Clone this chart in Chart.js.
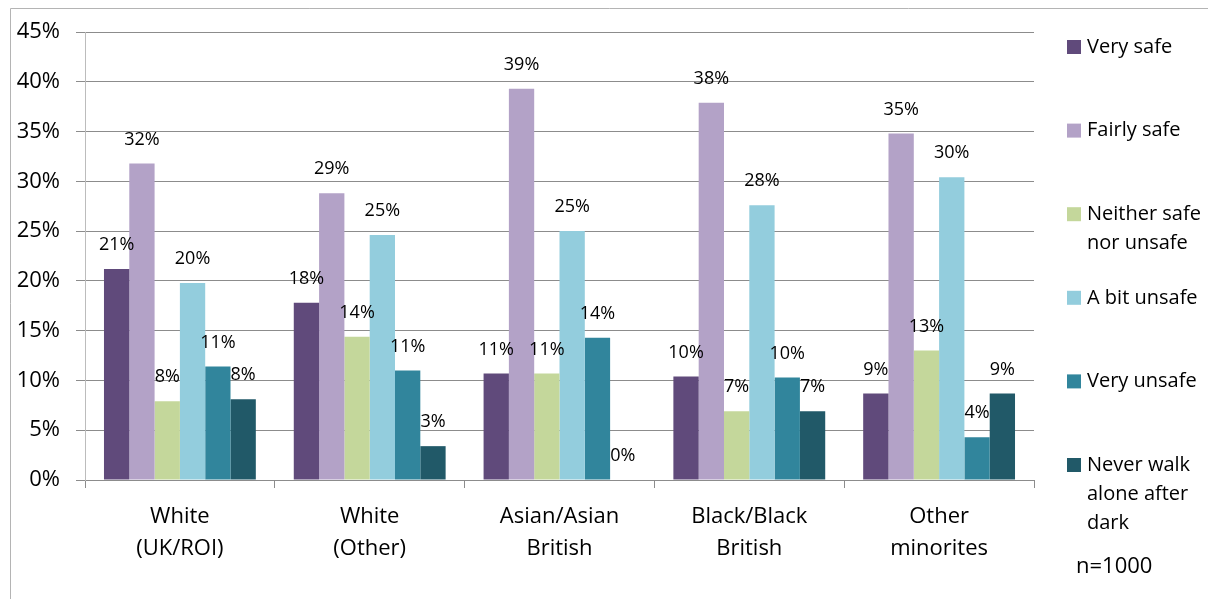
<!DOCTYPE html>
<html>
<head>
<meta charset="utf-8">
<title>Feeling of safety walking alone after dark, by ethnicity</title>
<script src="https://cdn.jsdelivr.net/npm/chart.js@4.4.1/dist/chart.umd.min.js"></script>
<style>
  html, body { margin: 0; padding: 0; background: #fff; }
  #wrap { width: 1208px; height: 599px; position: relative; }
</style>
</head>
<body>
<div id="wrap"><canvas id="myChart" width="1208" height="599"></canvas></div>
<script>
// categories along the x axis (each split over two lines)
var groups = [
  ["White", "(UK/ROI)"],
  ["White", "(Other)"],
  ["Asian/Asian", "British"],
  ["Black/Black", "British"],
  ["Other", "minorites"]
];

// percentage answering each option, per group
var verySafe    = [21.2, 17.8, 10.7, 10.4,  8.7];
var fairlySafe  = [31.8, 28.8, 39.3, 37.9, 34.8];
var neither     = [ 7.9, 14.4, 10.7,  6.9, 13.0];
var bitUnsafe   = [19.8, 24.6, 25.0, 27.6, 30.4];
var veryUnsafe  = [11.4, 11.0, 14.3, 10.3,  4.3];
var neverWalk   = [ 8.1,  3.4,  0.0,  6.9,  8.7];

var seriesNames = [
  ["Very safe"],
  ["Fairly safe"],
  ["Neither safe", "nor unsafe"],
  ["A bit unsafe"],
  ["Very unsafe"],
  ["Never walk", "alone after", "dark"]
];
var seriesColors = ['#604a7b', '#b3a2c7', '#c4d79b', '#93cddd', '#31859c', '#215968'];

var yTicks = [0, 5, 10, 15, 20, 25, 30, 35, 40, 45];
var sampleNote = "n=1000";

var FONT = "'Open Sans', 'Noto Sans', sans-serif";
var allSeries = [verySafe, fairlySafe, neither, bitUnsafe, veryUnsafe, neverWalk];

var datasets = allSeries.map(function(vals, i) {
  return {
    label: seriesNames[i].join(' '),
    data: vals,
    backgroundColor: seriesColors[i],
    borderWidth: 0,
    categoryPercentage: 0.8,
    barPercentage: 1.0
  };
});

// frame around the whole figure
var framePlugin = {
  id: 'frame',
  beforeDraw: function(chart) {
    var c = chart.ctx;
    c.save();
    c.fillStyle = '#fff';
    c.fillRect(0, 0, chart.width, chart.height);
    c.strokeStyle = '#b4b4b4';
    c.lineWidth = 1;
    c.beginPath();
    c.moveTo(10.5, chart.height);
    c.lineTo(10.5, 8.5);
    c.lineTo(chart.width, 8.5);
    c.stroke();
    c.restore();
  }
};

// percentage printed above every bar
var valueLabels = {
  id: 'valueLabels',
  afterDatasetsDraw: function(chart) {
    var c = chart.ctx;
    c.save();
    c.font = '18px ' + FONT;
    c.fillStyle = '#000';
    c.textAlign = 'center';
    c.textBaseline = 'middle';
    chart.data.datasets.forEach(function(ds, i) {
      chart.getDatasetMeta(i).data.forEach(function(bar, j) {
        c.fillText(Math.round(ds.data[j]) + '%', bar.x, bar.y - 24);
      });
    });
    c.restore();
  }
};

// legend on the right with wrapped labels, plus the sample size
var sideLegend = {
  id: 'sideLegend',
  afterDraw: function(chart) {
    var c = chart.ctx;
    var x0 = 1067, y0 = 47, step = 83.6, lh = 29;
    c.save();
    c.font = '20px ' + FONT;
    c.textBaseline = 'middle';
    c.textAlign = 'left';
    seriesNames.forEach(function(lines, i) {
      var y = y0 + i * step;
      c.fillStyle = seriesColors[i];
      c.fillRect(x0, y - 7, 14, 14);
      c.fillStyle = '#000';
      lines.forEach(function(t, k) {
        c.fillText(t, x0 + 20, y + k * lh);
      });
    });
    c.font = '22px ' + FONT;
    c.fillText(sampleNote, 1076, 567);
    c.restore();
  }
};

var ctx = document.getElementById('myChart').getContext('2d');
var chart = new Chart(ctx, {
  type: 'bar',
  data: {
    labels: groups,
    datasets: datasets
  },
  plugins: [framePlugin, valueLabels, sideLegend],
  options: {
    responsive: false,
    animation: false,
    events: [],
    layout: { padding: { left: 0, top: 32, right: 174, bottom: 0 } },
    plugins: {
      legend: { display: false },
      tooltip: { enabled: false }
    },
    scales: {
      x: {
        grid: {
          offset: true,
          drawOnChartArea: false,
          color: '#8c8c8c',
          tickLength: 8
        },
        border: { color: '#8c8c8c' },
        ticks: {
          color: '#000',
          font: { family: FONT, size: 22, lineHeight: 1.45 },
          padding: 13,
          maxRotation: 0
        },
        afterFit: function(scale) { scale.height = 119; }
      },
      y: {
        min: 0,
        max: 45,
        afterBuildTicks: function(scale) {
          scale.ticks = yTicks.map(function(v) { return { value: v }; });
        },
        grid: { color: '#8c8c8c', tickLength: 9 },
        border: { color: '#bcbcbc' },
        ticks: {
          color: '#000',
          font: { family: FONT, size: 22 },
          padding: 16,
          callback: function(v) { return v + '%'; }
        },
        afterFit: function(scale) { scale.width = 85; }
      }
    }
  }
});
</script>
</body>
</html>
